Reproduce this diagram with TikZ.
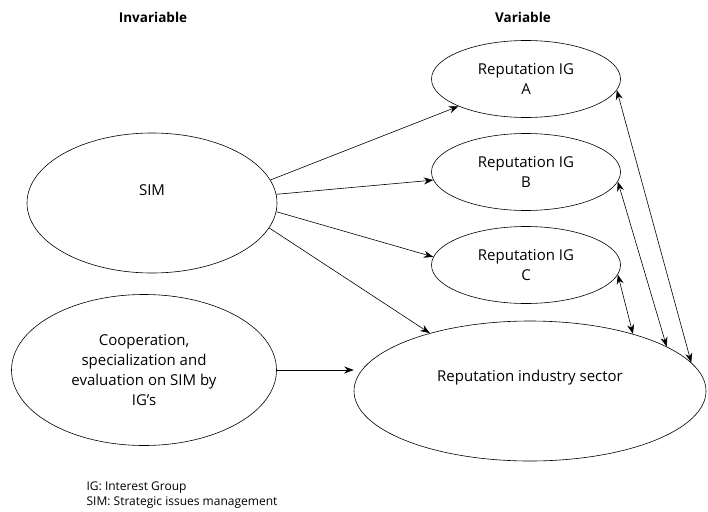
\documentclass[tikz,border=0pt]{standalone}
\usepackage{fontspec}
\setmainfont{Open Sans}
\usetikzlibrary{arrows.meta,positioning,shapes}

\begin{document}
\begin{tikzpicture}[->,>={Stealth[length=9.5pt,width=7pt]},semithick,
                    x=1pt,y=-1pt,node distance=93pt,
                    font=\fontsize{15}{20}\selectfont]
  \tikzstyle{oval}=[draw,ellipse,inner sep=0pt,align=center]
  \tikzstyle{small oval}=[oval,minimum width=189pt,minimum height=77pt]
  \tikzstyle{head}=[font=\fontsize{13.5}{15}\selectfont\bfseries]

  \useasboundingbox (0,0) rectangle (708,511);

  \node[head]				(inv)  at (153,17)		{Invariable};
  \node[head]				(var)  at (523,17)		{Variable};

  \node[small oval]			(A)    at (526,79)		{Reputation IG\\A};
  \node[small oval]			(B)    [below of=A]		{Reputation IG\\B};
  \node[small oval]			(C)    [below of=B]		{Reputation IG\\C};

  \node[oval,minimum width=250pt,minimum height=140pt,
        text height=11pt,text depth=27pt]	(SIM)  at (152,203)	{SIM};
  \node[oval,minimum width=265pt,minimum height=151pt]	(Coop) at (144,370)
        {Cooperation,\\specialization and\\evaluation on SIM by\\IG’s};
  \node[oval,minimum width=352pt,minimum height=140pt,
        text height=11pt,text depth=30pt]	(Ind)  at (530,391)	{Reputation industry sector};

  \node[anchor=west,align=left,font=\fontsize{12}{15}\selectfont]	(key) at (83,495)
        {IG: Interest Group\\SIM: Strategic issues management};

  \path (SIM.11)	edge 		(A.202);
  \path (SIM.4)		edge 		(B.185);
  \path (SIM.-4)	edge 		(C.175);
  \path (SIM.-12)	edge 		(Ind.150);
  \path (Coop.east)	edge 		(Coop.east -| Ind.west);

  \path (C.-6)		edge [<->]	(Ind.29);
  \path (B.-6)		edge [<->]	(Ind.18);
  \path (A.-7)		edge [<->]	(Ind.10);

\end{tikzpicture}
\end{document}
